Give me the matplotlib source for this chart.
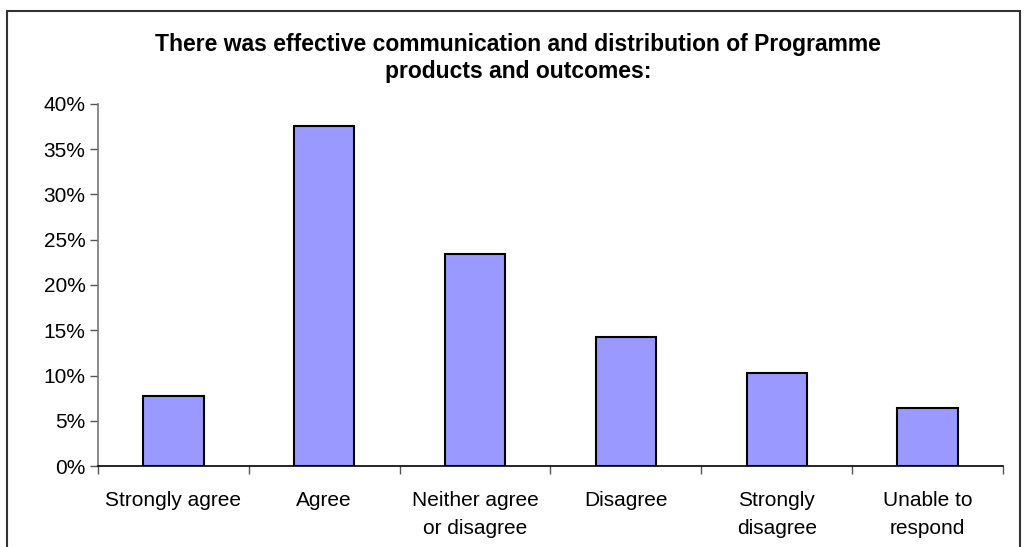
import matplotlib
matplotlib.use("Agg")
import matplotlib.pyplot as plt
from matplotlib.patches import Rectangle
from matplotlib.ticker import FixedLocator, PercentFormatter

categories = ["Strongly agree", "Agree", "Neither agree\nor disagree",
              "Disagree", "Strongly\ndisagree", "Unable to\nrespond"]
values = [7.7, 37.6, 23.4, 14.3, 10.3, 6.4]
yticks = [0, 5, 10, 15, 20, 25, 30, 35, 40]
title = ("There was effective communication and distribution of Programme\n"
         "products and outcomes:")

plt.rcParams["font.family"] = ["Liberation Sans", "DejaVu Sans"]

fig = plt.figure(figsize=(10.25, 5.47), dpi=100)
ax = fig.add_axes([98 / 1025, 1 - 466 / 547, 905 / 1025, 362 / 547])

x = list(range(len(categories)))
ax.bar(x, values, width=0.4, color="#9999FF", edgecolor="black",
       linewidth=1.5, zorder=3)

ax.set_xlim(-0.5, len(categories) - 0.5)
ax.set_ylim(0, 40)
ax.yaxis.set_major_locator(FixedLocator(yticks))
ax.yaxis.set_major_formatter(PercentFormatter(decimals=0))

ax.set_xticks(x)
ax.set_xticklabels(categories, fontsize=15, linespacing=1.6)
ax.xaxis.set_minor_locator(FixedLocator([i - 0.5 for i in range(len(categories) + 1)]))
ax.tick_params(axis="x", which="major", length=0, pad=18)
ax.tick_params(axis="x", which="minor", length=6, width=1, color="#555555",
               direction="out")
ax.tick_params(axis="y", labelsize=15, length=6, width=1, color="#555555",
               direction="out", pad=3)

for side in ("top", "right"):
    ax.spines[side].set_visible(False)
ax.spines["left"].set_color("#777777")
ax.spines["bottom"].set_color("black")
ax.spines["left"].set_linewidth(1.2)
ax.spines["bottom"].set_linewidth(1.2)

fig.text(518 / 1025, 1 - 58 / 547, title, ha="center", va="center",
         fontsize=16.5, fontweight="bold", linespacing=1.25)

# outer chart frame
fig.patches.append(Rectangle((7 / 1025, -0.05), 1013 / 1025, 1.05 - 11 / 547,
                             transform=fig.transFigure, fill=False,
                             edgecolor="#333333", linewidth=1.5))

fig.savefig("out.png", dpi=100, facecolor="white")
